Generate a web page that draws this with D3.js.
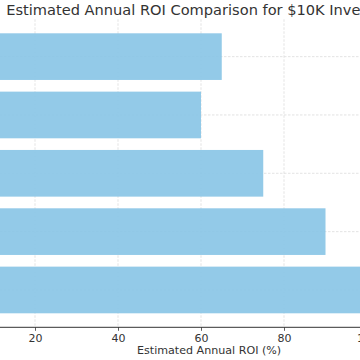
<!DOCTYPE html>
<html>
<head>
<meta charset="utf-8">
<script src="https://cdn.jsdelivr.net/npm/d3@7"></script>
<style>
  html, body { margin: 0; padding: 0; background: #fff; overflow: hidden; }
  svg { display: block; font-family: "DejaVu Sans", sans-serif; }
</style>
</head>
<body>
<script>
// Data (categories listed top-to-bottom as drawn)
const categories = ["Dividend Stocks", "Real Estate", "Index Funds", "Small Business", "Cryptocurrency"];
const roiValues = [65, 60, 75, 90, 118];
const tickValues = [0, 20, 40, 60, 80, 100, 120];
const titleText = "Estimated Annual ROI Comparison for $10K Investment";
const xLabelText = "Estimated Annual ROI (%)";

const W = 360, H = 360;
const pxPerUnit = 4.15;
const axLeft = -48, axTop = 19.3, axBottom = 327.3;
const xMax = d3.max(roiValues) * 1.05;
const axRight = axLeft + xMax * pxPerUnit;
const axCenter = (axLeft + axRight) / 2;

const svg = d3.select("body").append("svg").attr("width", W).attr("height", H);

const x = d3.scaleLinear().domain([0, xMax]).range([axLeft, axRight]);
const y = d3.scaleBand().domain(categories).range([axTop, axBottom])
  .paddingInner(0.2).paddingOuter(0.24);

// grid
const grid = svg.append("g");
grid.selectAll("line.v").data(tickValues).join("line")
  .attr("x1", d => x(d)).attr("x2", d => x(d))
  .attr("y1", axTop).attr("y2", axBottom)
  .attr("stroke", "#dcdcdc").attr("stroke-width", 0.8).attr("stroke-dasharray", "2.5,1.5");
grid.selectAll("line.h").data(categories).join("line")
  .attr("x1", axLeft).attr("x2", axRight)
  .attr("y1", d => y(d) + y.bandwidth() / 2).attr("y2", d => y(d) + y.bandwidth() / 2)
  .attr("stroke", "#dcdcdc").attr("stroke-width", 0.8).attr("stroke-dasharray", "2.5,1.5");

// bars
svg.append("g").selectAll("rect").data(categories).join("rect")
  .attr("x", x(0))
  .attr("y", d => y(d))
  .attr("width", (d, i) => x(roiValues[i]) - x(0))
  .attr("height", y.bandwidth())
  .attr("fill", "#8ac5e6")
  .attr("fill-opacity", 0.92);

// x axis
const xAxis = svg.append("g").attr("transform", `translate(0,${axBottom})`)
  .call(d3.axisBottom(x).tickValues(tickValues).tickFormat(d3.format("d")).tickSizeOuter(0).tickSize(3.5).tickPadding(3));
xAxis.select(".domain").attr("stroke", "#333").attr("stroke-width", 1)
  .attr("d", `M${axLeft},0H${axRight}`);
xAxis.selectAll(".tick line").attr("stroke", "#333").attr("stroke-width", 0.8);
xAxis.selectAll(".tick text").attr("fill", "#333").attr("font-size", "11px")
  .attr("font-family", "DejaVu Sans");

// y axis (categories, off to the left)
const yAxis = svg.append("g").attr("transform", `translate(${axLeft},0)`)
  .call(d3.axisLeft(y).tickSize(3.5));
yAxis.select(".domain").attr("stroke", "#333");
yAxis.selectAll("text").attr("fill", "#333").attr("font-size", "11px").attr("font-family", "DejaVu Sans");

// x label
svg.append("text").attr("x", axCenter).attr("y", 354)
  .attr("text-anchor", "middle").attr("font-size", "11.1px").attr("fill", "#333")
  .text(xLabelText);

// title
svg.append("text").attr("x", axCenter).attr("y", 14.6)
  .attr("text-anchor", "middle").attr("font-size", "14.6px").attr("fill", "#333")
  .text(titleText);
</script>
</body>
</html>
